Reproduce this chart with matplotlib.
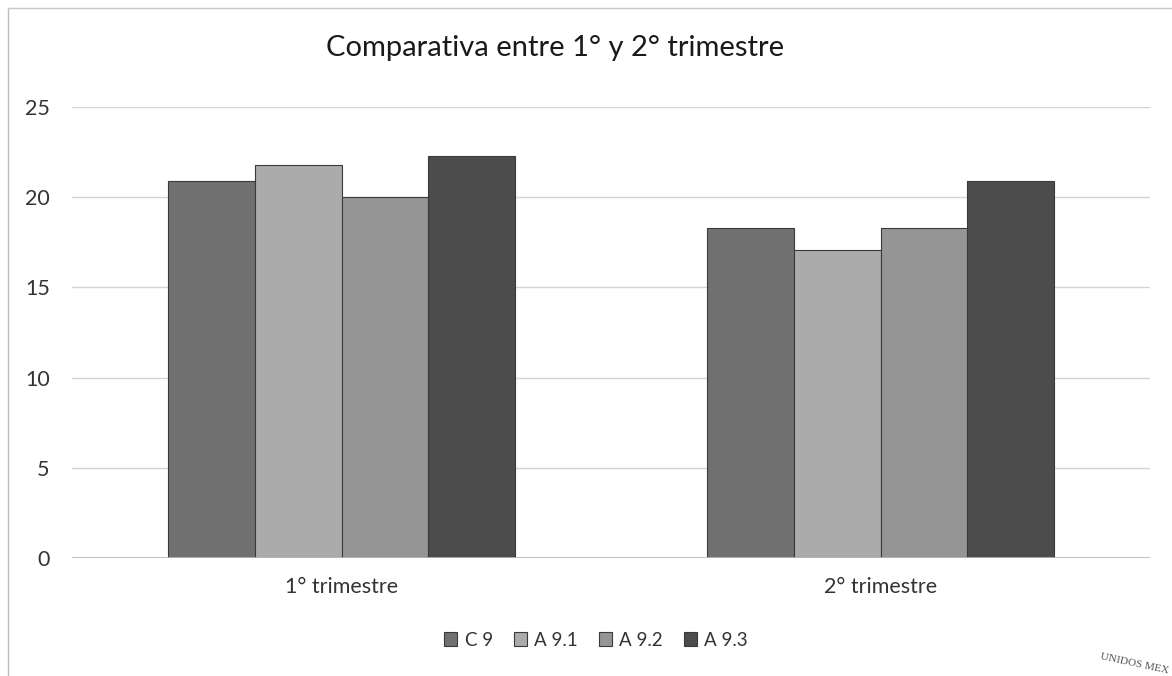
import matplotlib
matplotlib.use('Agg')
import matplotlib.pyplot as plt
import numpy as np

plt.rcParams['font.family'] = ['Lato', 'DejaVu Sans']

# chart data
categories = ['1° trimestre', '2° trimestre']
series_names = ['C 9', 'A 9.1', 'A 9.2', 'A 9.3']
values = {
    'C 9': [20.9, 18.3],
    'A 9.1': [21.8, 17.1],
    'A 9.2': [20.0, 18.3],
    'A 9.3': [22.3, 20.9],
}
colors = ['#707070', '#ababab', '#959595', '#4c4c4c']
yticks = [0, 5, 10, 15, 20, 25]

W, H = 1172, 676
fig = plt.figure(figsize=(W / 100, H / 100), dpi=100)
ax = fig.add_axes([72 / W, 1 - 558 / H, (1150 - 72) / W, (558 - 107) / H])

x = np.arange(len(categories))
bar_w = 0.161
offsets = (np.arange(len(series_names)) - (len(series_names) - 1) / 2) * bar_w
for i, name in enumerate(series_names):
    ax.bar(x + offsets[i], values[name], width=bar_w, color=colors[i],
           edgecolor='#3a3a3a', linewidth=0.8, label=name, zorder=3)

ax.set_xlim(-0.5, len(categories) - 0.5)
ax.set_ylim(0, 25)
ax.set_yticks(yticks)
ax.set_xticks(x)
ax.set_xticklabels(categories)
ax.tick_params(axis='both', length=0, labelsize=15.5, colors='#333333')
ax.tick_params(axis='y', pad=16)
ax.tick_params(axis='x', pad=14)
ax.grid(axis='y', color='#d4d4d4', linewidth=1, zorder=0)
ax.axhline(0, color='#b8b8b8', linewidth=1.2, zorder=4)
for s in ax.spines.values():
    s.set_visible(False)

fig.text(555 / W, 1 - 48 / H, 'Comparativa entre 1° y 2° trimestre',
         ha='center', va='center', fontsize=21, color='#1a1a1a')

fig.legend(loc='center', bbox_to_anchor=(596 / W, 1 - 640 / H), ncol=4,
           frameon=False, fontsize=13.5, handlelength=0.7, handleheight=0.7,
           handletextpad=0.4, columnspacing=1.1, labelcolor='#333333')

# chart frame (scanned page border)
fig.add_artist(plt.Line2D([8 / W, 8 / W], [0, 1 - 8 / H], transform=fig.transFigure,
                          color='#bdbdbd', linewidth=1))
fig.add_artist(plt.Line2D([8 / W, 1], [1 - 8 / H, 1 - 8 / H], transform=fig.transFigure,
                          color='#c8c8c8', linewidth=1))

# piece of the seal in the corner
fig.text(1135 / W, 1 - 664 / H, 'UNIDOS MEX', rotation=-12, fontsize=8,
         family='Liberation Serif', color='#555555', ha='center', va='center')

fig.savefig('out.png', dpi=100)
